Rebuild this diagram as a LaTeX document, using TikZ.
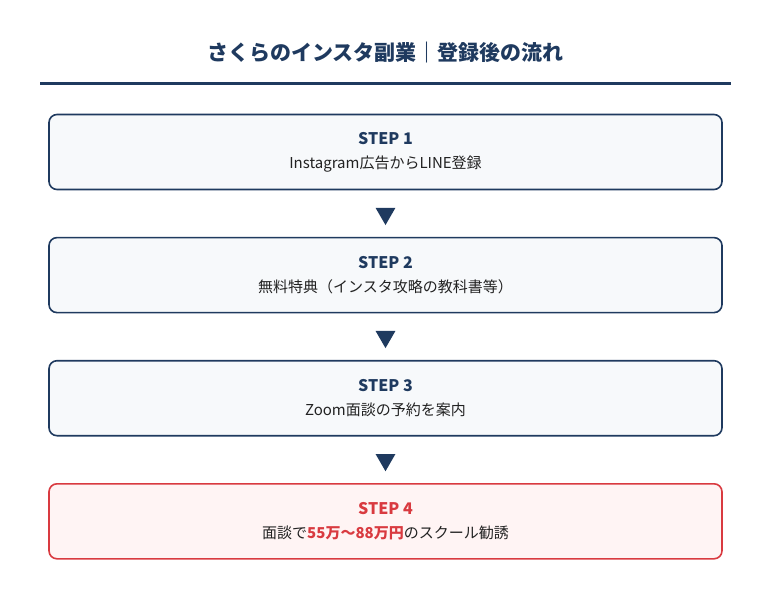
\documentclass[tikz,border=0pt]{standalone}
\usepackage{fontspec}
\setmainfont{Noto Sans CJK JP}
\usetikzlibrary{positioning,calc,shapes.geometric}
\definecolor{navy}{HTML}{1F3A5F}
\definecolor{boxfill}{HTML}{F7F9FB}
\definecolor{alertred}{HTML}{D93A40}
\definecolor{alertfill}{HTML}{FFF4F4}
\definecolor{bodytext}{HTML}{222222}
\newcommand{\stepline}[2]{{\fontsize{16pt}{18pt}\selectfont\bfseries #1}\\[10pt]{\fontsize{15pt}{17pt}\selectfont\color{bodytext}#2}}
\begin{document}
\begin{tikzpicture}[x=1pt, y=-1pt, node distance=46.5pt,
	stepbox/.style={draw=navy, line width=1.6pt, fill=boxfill, rounded corners=8pt, minimum width=673pt, minimum height=75pt, align=center, text=navy},
	alertbox/.style={stepbox, draw=alertred, fill=alertfill, text=alertred},
	downmark/.style={regular polygon, regular polygon sides=3, shape border rotate=180, fill=navy, inner sep=0pt, minimum size=23pt}]
	\useasboundingbox (0,0) rectangle (771,600);
	\node[text=navy, font=\fontsize{21pt}{24pt}\selectfont\bfseries] (title) at (385.5,53) {さくらのインスタ副業｜登録後の流れ};
	\draw[navy, line width=3pt] (40,83) -- (731,83);
	\node[stepbox] (s1) at (385.5,152) {\stepline{STEP 1}{Instagram広告からLINE登録}};
	\node[stepbox, below=of s1] (s2) {\stepline{STEP 2}{無料特典（インスタ攻略の教科書等）}};
	\node[stepbox, below=of s2] (s3) {\stepline{STEP 3}{Zoom面談の予約を案内}};
	\node[alertbox, below=of s3] (s4) {\stepline{STEP 4}{面談で{\bfseries\color{alertred}55万〜88万円}のスクール勧誘}};
	\foreach \a/\b in {s1/s2, s2/s3, s3/s4}
		\node[downmark] (m\a) at ($(\a.south)!0.5!(\b.north)$) {};
\end{tikzpicture}
\end{document}
